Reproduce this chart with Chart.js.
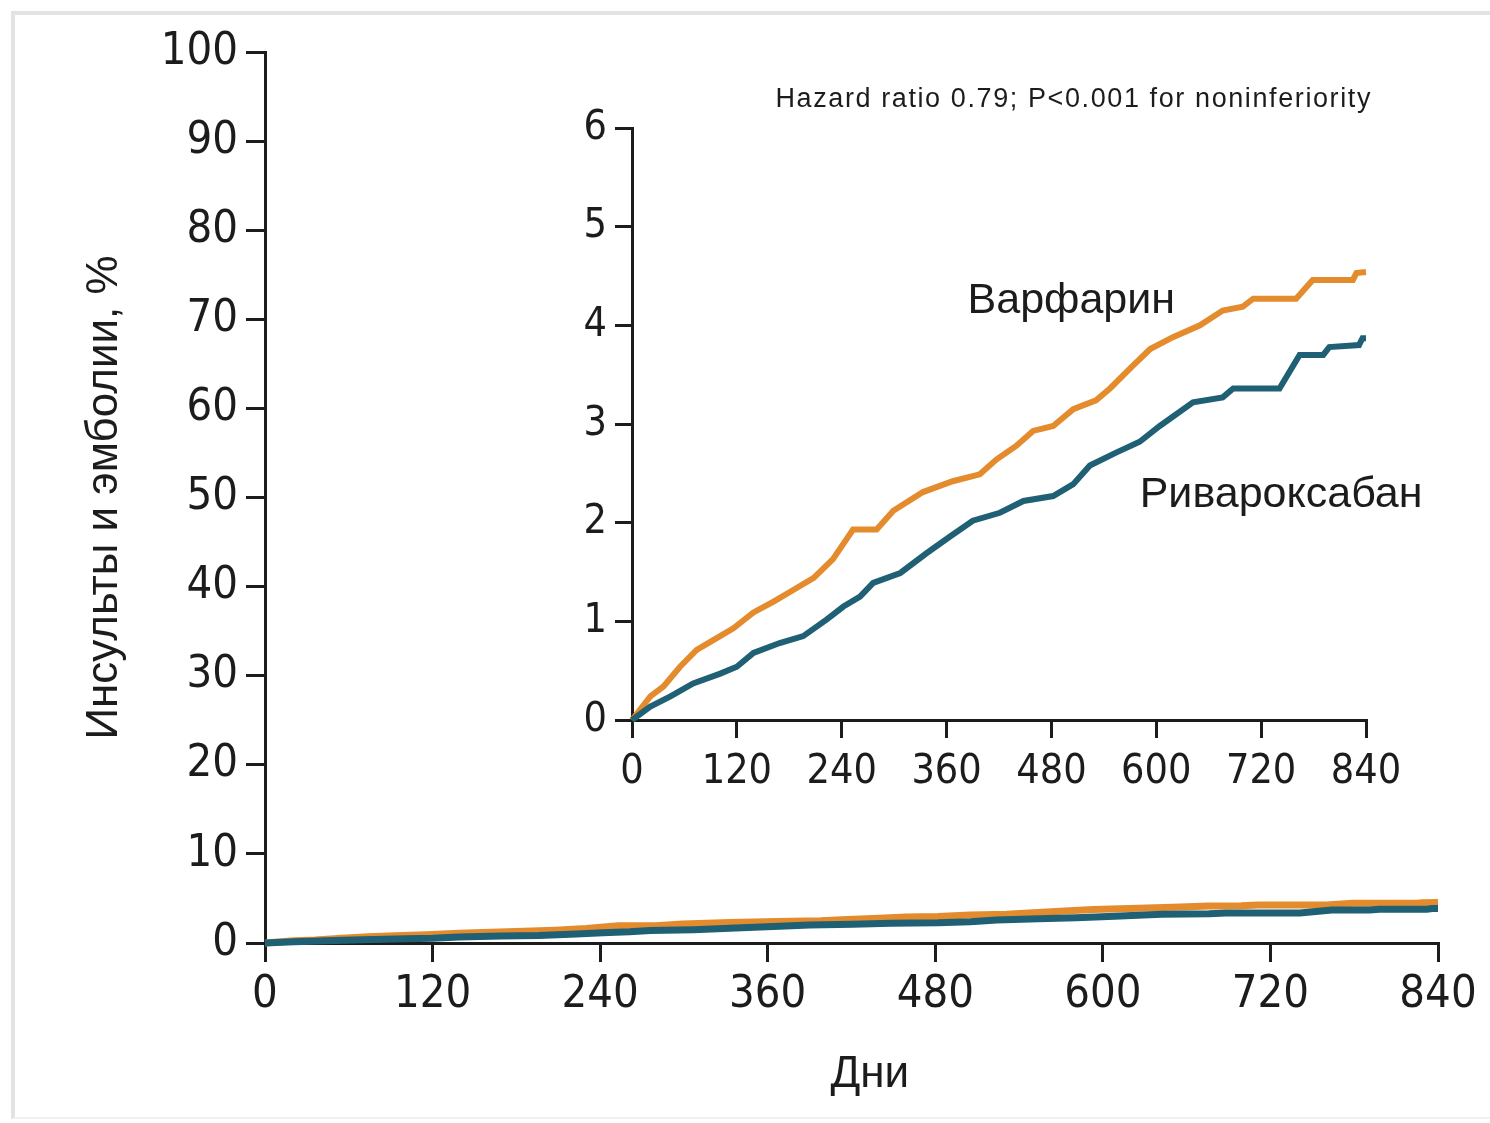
<!DOCTYPE html>
<html lang="ru">
<head>
<meta charset="UTF-8">
<title>Инсульты и эмболии</title>
<script src="https://cdn.jsdelivr.net/npm/chart.js@4.4.0/dist/chart.umd.min.js"></script>
<style>
  html, body { margin: 0; padding: 0; background: #fff; }
  #wrap { position: relative; width: 1490px; height: 1123px; overflow: hidden; }
  #frame {
    position: absolute; left: 11px; top: 11px; right: -20px; bottom: 4px;
    border-top: 4px solid #e3e3e3; border-left: 4px solid #e3e3e3; border-bottom: 2px solid #f1f1f1;
  }
  #main { position: absolute; left: 0; top: 0; }
  #inset { position: absolute; left: 500px; top: 60px; }
</style>
</head>
<body>
<div id="wrap">
  <div id="frame"></div>
  <canvas id="main" width="1490" height="1123"></canvas>
  <canvas id="inset" width="990" height="760"></canvas>
</div>
<script>
// cumulative event rate, % (Kaplan-Meier), by study day
const warfarinDays = [0, 21, 36, 55, 74, 93, 116, 139, 162, 185, 208, 230, 253, 280, 299, 333, 367, 398, 417, 440, 459, 482, 505, 531, 547, 573, 593, 619, 650, 676, 699, 711, 760, 779, 825, 829, 840];
const warfarinRisk = [0, 0.24, 0.34, 0.54, 0.71, 0.81, 0.93, 1.09, 1.2, 1.32, 1.44, 1.63, 1.93, 1.93, 2.12, 2.31, 2.42, 2.49, 2.64, 2.78, 2.93, 2.98, 3.15, 3.24, 3.36, 3.59, 3.76, 3.88, 4.0, 4.15, 4.19, 4.27, 4.27, 4.46, 4.46, 4.53, 4.54];

const rivaroxabanDays = [0, 21, 44, 70, 101, 120, 139, 169, 196, 223, 242, 261, 276, 307, 337, 364, 390, 421, 448, 482, 505, 524, 554, 581, 604, 642, 676, 688, 741, 764, 791, 798, 832, 836, 840];
const rivaroxabanRisk = [0, 0.135, 0.24, 0.37, 0.47, 0.54, 0.68, 0.78, 0.85, 1.02, 1.15, 1.25, 1.39, 1.49, 1.69, 1.86, 2.02, 2.1, 2.22, 2.27, 2.39, 2.58, 2.71, 2.82, 2.98, 3.22, 3.27, 3.36, 3.36, 3.7, 3.7, 3.78, 3.8, 3.87, 3.87];

const dayTicks = [0, 120, 240, 360, 480, 600, 720, 840];
const mainRiskMax = 100;
const insetRiskMax = 6;

const hazardText = 'Hazard ratio 0.79; P<0.001 for noninferiority';

const orange = '#e48c2d';
const teal = '#1f6074';
const ink = '#1c1c1c';
const tickFamily = "'DejaVu Sans Condensed', 'Liberation Sans Narrow', sans-serif";
const textFamily = "'Liberation Sans', Arial, sans-serif";

function toPoints(days, values) {
  return days.map((d, i) => ({ x: d, y: values[i] }));
}

function series(width) {
  return [
    { label: 'Ривароксабан', data: toPoints(rivaroxabanDays, rivaroxabanRisk), borderColor: teal,
      borderWidth: width, pointRadius: 0, tension: 0, clip: false },
    { label: 'Варфарин', data: toPoints(warfarinDays, warfarinRisk), borderColor: orange,
      borderWidth: width, pointRadius: 0, tension: 0, clip: false }
  ];
}

function axis(opts) {
  return {
    type: 'linear',
    min: opts.min,
    max: opts.max,
    afterBuildTicks: opts.values ? (s) => { s.ticks = opts.values.map(v => ({ value: v })); } : undefined,
    ticks: { stepSize: opts.step, color: ink, padding: opts.pad,
             font: { family: tickFamily, size: opts.fontSize, lineHeight: 1 } },
    grid: { drawOnChartArea: false, tickLength: opts.tickLength, lineWidth: 3, color: ink },
    border: { color: ink, width: 3 },
    title: opts.title || { display: false },
    afterFit: opts.fit
  };
}

// main chart, 0-100 %
new Chart(document.getElementById('main'), {
  type: 'line',
  data: { datasets: series(7) },
  options: {
    responsive: false,
    animation: false,
    layout: { padding: { top: 52, right: 52, left: 0, bottom: 0 } },
    plugins: { legend: { display: false }, tooltip: { enabled: false } },
    scales: {
      x: axis({ min: 0, max: 840, values: dayTicks, pad: 11, fontSize: 45, tickLength: 19,
                fit: s => { s.height = 180; },
                title: { display: true, text: '\u00a0\u00a0\u00a0Дни', color: ink,
                         font: { family: textFamily, size: 44 }, padding: { top: 0, bottom: 22 } } }),
      y: axis({ min: 0, max: mainRiskMax, step: 10, pad: 8, fontSize: 45, tickLength: 19,
                fit: s => { s.width = 265; },
                title: { display: true, text: 'Инсульты и эмболии, %', color: ink,
                         font: { family: textFamily, size: 44 }, padding: { top: 78, bottom: 0 } } })
    }
  }
});

// series names and test result inside the zoomed view
const warfarinLabelAt = { day: 384, risk: 4.12 };
const rivaroxabanLabelAt = { day: 581, risk: 2.16 };

const insetNotes = {
  id: 'insetNotes',
  afterDatasetsDraw(chart) {
    const { ctx, chartArea, scales } = chart;
    ctx.save();
    ctx.fillStyle = ink;
    ctx.textBaseline = 'alphabetic';
    ctx.textAlign = 'left';
    ctx.font = '43px ' + textFamily;
    ctx.fillText('Варфарин', scales.x.getPixelForValue(warfarinLabelAt.day), scales.y.getPixelForValue(warfarinLabelAt.risk));
    ctx.fillText('Ривароксабан', scales.x.getPixelForValue(rivaroxabanLabelAt.day), scales.y.getPixelForValue(rivaroxabanLabelAt.risk));
    ctx.font = '27px ' + textFamily;
    ctx.letterSpacing = '1.6px';
    ctx.textAlign = 'right';
    ctx.fillText(hazardText, chartArea.right + 6, chartArea.top - 21);
    ctx.restore();
  }
};

// zoomed view, 0-6 %
new Chart(document.getElementById('inset'), {
  type: 'line',
  data: { datasets: series(6) },
  options: {
    responsive: false,
    animation: false,
    layout: { padding: { top: 68, right: 124, left: 0, bottom: 0 } },
    plugins: { legend: { display: false }, tooltip: { enabled: false } },
    scales: {
      x: axis({ min: 0, max: 840, values: dayTicks, pad: 14, fontSize: 41, tickLength: 18,
                fit: s => { s.height = 100; } }),
      y: axis({ min: 0, max: insetRiskMax, step: 1, pad: 8, fontSize: 41, tickLength: 17,
                fit: s => { s.width = 132; } })
    }
  },
  plugins: [insetNotes]
});
</script>
</body>
</html>
